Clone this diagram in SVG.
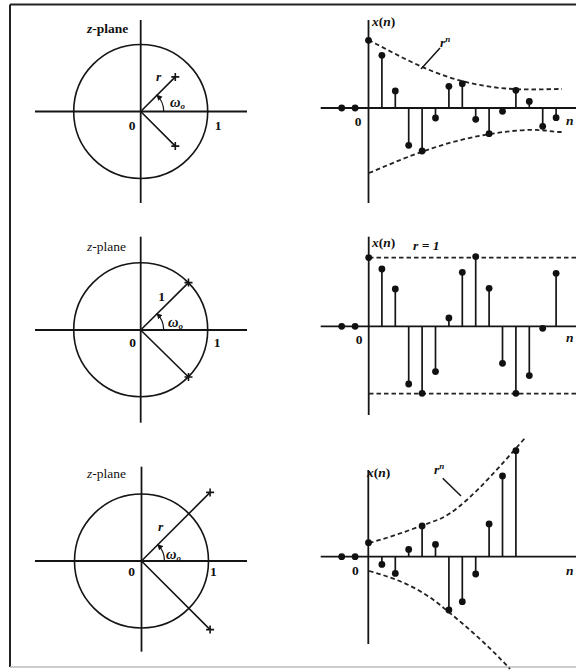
<svg xmlns="http://www.w3.org/2000/svg" width="576" height="672" viewBox="0 0 576 672">
<defs>
<style>
.ax{stroke:#151515;stroke-width:1.8;fill:none}
.cir{stroke:#151515;stroke-width:1.6;fill:none}
.ray{stroke:#151515;stroke-width:1.6;fill:none}
.stem{stroke:#151515;stroke-width:1.7}
.dash{stroke:#222;stroke-width:1.8;fill:none;stroke-dasharray:4.5 3}
.arc{stroke:#151515;stroke-width:1.2;fill:none}
.dot{fill:#111}
.t{font-family:"Liberation Serif","Times New Roman",serif;font-size:13.5px;fill:#111}
.b{font-weight:bold}
.i{font-style:italic}
.w{font-size:14.5px}
.frame{stroke:#222;stroke-width:2;fill:none}
</style>
<marker id="ah" viewBox="0 0 6 6" refX="5" refY="3" markerWidth="5" markerHeight="5" orient="auto">
<path d="M0,0 L6,3 L0,6 z" fill="#151515"/>
</marker>
<g id="pole"><path d="M-4,0 H4 M0,-4 V4" stroke="#151515" stroke-width="1.6"/></g>
<g id="d"><circle r="3.4" class="dot"/></g>
</defs>
<rect width="576" height="672" fill="#fff"/>
<g id="frame">
<path class="frame" d="M10,4.5 H576 M10,4.5 V667"/>
<path d="M10,667 H576" stroke="#bbb" stroke-width="1.5"/>
</g>

<!-- Row 1 z-plane -->
<g id="zplane1">
<line class="ax" x1="35" y1="111.5" x2="247" y2="111.5"/>
<line class="ax" x1="140.7" y1="20" x2="140.7" y2="203"/>
<circle class="cir" cx="140.7" cy="111.5" r="67"/>
<path class="ray" d="M140.7,111.5 L175.3,76.9 M140.7,111.5 L175.3,146.1"/>
<use href="#pole" x="175.3" y="76.9"/>
<use href="#pole" x="175.3" y="146.1"/>
<path class="arc" d="M163.7,111.5 A23,23 0 0 0 157.0,95.2" marker-end="url(#ah)"/>
<text class="t b" x="87" y="33"><tspan class="i">z</tspan>-plane</text>
<text class="t b i" x="156" y="81">r</text>
<text class="t b i w" x="170" y="107">ω<tspan font-size="9" dy="2">o</tspan></text>
<text class="t b" x="132" y="130" text-anchor="middle">0</text>
<text class="t b" x="218" y="130" text-anchor="middle">1</text>
</g>

<!-- Row 1 sequence -->
<g id="seq1">
<line class="ax" x1="320.7" y1="108" x2="576" y2="108"/>
<line class="ax" x1="368.5" y1="20" x2="368.5" y2="203"/>
<path class="dash" d="M368.5,40 C400,56 430,74 470,83 S540,89 562,89"/>
<path class="dash" d="M369,173 C400,160 440,142 490,134 S545,132 563,132"/>
<line x1="440" y1="48" x2="421" y2="69" stroke="#151515" stroke-width="1.5"/>
<text class="t b i" x="440" y="47">r<tspan font-size="9" dy="-5">n</tspan></text>
<text class="t b" x="372" y="26"><tspan class="i">x</tspan>(<tspan class="i">n</tspan>)</text>
<text class="t b" x="358" y="126" text-anchor="middle">0</text>
<text class="t b i" x="566" y="125">n</text>
<g>
<line class="stem" x1="381.9" y1="108" x2="381.9" y2="55.3"/>
<line class="stem" x1="395.3" y1="108" x2="395.3" y2="91"/>
<line class="stem" x1="408.7" y1="108" x2="408.7" y2="145.3"/>
<line class="stem" x1="422.1" y1="108" x2="422.1" y2="151"/>
<line class="stem" x1="435.5" y1="108" x2="435.5" y2="118"/>
<line class="stem" x1="448.9" y1="108" x2="448.9" y2="86.3"/>
<line class="stem" x1="462.3" y1="108" x2="462.3" y2="83.7"/>
<line class="stem" x1="475.7" y1="108" x2="475.7" y2="119.3"/>
<line class="stem" x1="489.1" y1="108" x2="489.1" y2="133.7"/>
<line class="stem" x1="502.5" y1="108" x2="502.5" y2="111.3"/>
<line class="stem" x1="515.9" y1="108" x2="515.9" y2="90.3"/>
<line class="stem" x1="529.3" y1="108" x2="529.3" y2="101.4"/>
<line class="stem" x1="542.7" y1="108" x2="542.7" y2="126.3"/>
<line class="stem" x1="556.1" y1="108" x2="556.1" y2="117.7"/>
</g>
<use href="#d" x="341.7" y="108"/>
<use href="#d" x="355.1" y="108"/>
<use href="#d" x="368.5" y="40.3"/>
<use href="#d" x="381.9" y="55.3"/>
<use href="#d" x="395.3" y="91"/>
<use href="#d" x="408.7" y="145.3"/>
<use href="#d" x="422.1" y="151"/>
<use href="#d" x="435.5" y="118"/>
<use href="#d" x="448.9" y="86.3"/>
<use href="#d" x="462.3" y="83.7"/>
<use href="#d" x="475.7" y="119.3"/>
<use href="#d" x="489.1" y="133.7"/>
<use href="#d" x="502.5" y="111.3"/>
<use href="#d" x="515.9" y="90.3"/>
<use href="#d" x="529.3" y="101.4"/>
<use href="#d" x="542.7" y="126.3"/>
<use href="#d" x="556.1" y="117.7"/>
</g>

<!-- Row 2 z-plane -->
<g id="zplane2">
<line class="ax" x1="35" y1="330" x2="247" y2="330"/>
<line class="ax" x1="140.7" y1="236.7" x2="140.7" y2="422.7"/>
<circle class="cir" cx="140.7" cy="329.7" r="67"/>
<path class="ray" d="M140.7,330 L188.5,282.6 M140.7,330 L188.5,377"/>
<use href="#pole" x="188.5" y="282.6"/>
<use href="#pole" x="188.5" y="377"/>
<path class="arc" d="M163.7,330 A23,23 0 0 0 157.0,313.7" marker-end="url(#ah)"/>
<text class="t" x="87" y="251"><tspan class="i">z</tspan>-plane</text>
<text class="t b" x="161.5" y="301" text-anchor="middle">1</text>
<text class="t b i w" x="168" y="327">ω<tspan font-size="9" dy="2">o</tspan></text>
<text class="t b" x="132.7" y="347" text-anchor="middle">0</text>
<text class="t b" x="217" y="347" text-anchor="middle">1</text>
</g>

<!-- Row 2 sequence -->
<g id="seq2">
<line class="ax" x1="320.7" y1="326.3" x2="576" y2="326.3"/>
<line class="ax" x1="368.7" y1="236.7" x2="368.7" y2="415"/>
<line class="dash" x1="369" y1="257.7" x2="576" y2="257.7"/>
<line class="dash" x1="369" y1="393.7" x2="576" y2="393.7"/>
<text class="t b" x="372" y="247"><tspan class="i">x</tspan>(<tspan class="i">n</tspan>)</text>
<text class="t b i" x="413" y="250">r = 1</text>
<text class="t b" x="359" y="344" text-anchor="middle">0</text>
<text class="t b i" x="566" y="342">n</text>
<g>
<line class="stem" x1="381.9" y1="326.3" x2="381.9" y2="269"/>
<line class="stem" x1="395.3" y1="326.3" x2="395.3" y2="289"/>
<line class="stem" x1="408.7" y1="326.3" x2="408.7" y2="384"/>
<line class="stem" x1="422.1" y1="326.3" x2="422.1" y2="393.3"/>
<line class="stem" x1="435.5" y1="326.3" x2="435.5" y2="371.6"/>
<line class="stem" x1="448.9" y1="326.3" x2="448.9" y2="318"/>
<line class="stem" x1="462.3" y1="326.3" x2="462.3" y2="272.3"/>
<line class="stem" x1="475.7" y1="326.3" x2="475.7" y2="256.6"/>
<line class="stem" x1="489.1" y1="326.3" x2="489.1" y2="288.3"/>
<line class="stem" x1="502.5" y1="326.3" x2="502.5" y2="363.3"/>
<line class="stem" x1="515.9" y1="326.3" x2="515.9" y2="393.3"/>
<line class="stem" x1="529.3" y1="326.3" x2="529.3" y2="375.6"/>
<line class="stem" x1="556.1" y1="326.3" x2="556.1" y2="273.3"/>
</g>
<use href="#d" x="341.7" y="326.3"/>
<use href="#d" x="355.1" y="326.3"/>
<use href="#d" x="368.7" y="257.6"/>
<use href="#d" x="381.9" y="269"/>
<use href="#d" x="395.3" y="289"/>
<use href="#d" x="408.7" y="384"/>
<use href="#d" x="422.1" y="393.3"/>
<use href="#d" x="435.5" y="371.6"/>
<use href="#d" x="448.9" y="318"/>
<use href="#d" x="462.3" y="272.3"/>
<use href="#d" x="475.7" y="256.6"/>
<use href="#d" x="489.1" y="288.3"/>
<use href="#d" x="502.5" y="363.3"/>
<use href="#d" x="515.9" y="393.3"/>
<use href="#d" x="529.3" y="375.6"/>
<use href="#d" x="542.7" y="328.3"/>
<use href="#d" x="556.1" y="273.3"/>
</g>

<!-- Row 3 z-plane -->
<g id="zplane3">
<line class="ax" x1="35" y1="561" x2="247" y2="561"/>
<line class="ax" x1="141.5" y1="466.7" x2="141.5" y2="651.7"/>
<circle class="cir" cx="141.5" cy="561" r="67"/>
<path class="ray" d="M141.5,561 L210.1,492.4 M141.5,561 L210.1,629.6"/>
<use href="#pole" x="210.1" y="492.4"/>
<use href="#pole" x="210.1" y="629.6"/>
<path class="arc" d="M164.5,561 A23,23 0 0 0 157.8,544.7" marker-end="url(#ah)"/>
<text class="t" x="87" y="478"><tspan class="i">z</tspan>-plane</text>
<text class="t b i" x="158" y="531">r</text>
<text class="t b i w" x="166" y="559">ω<tspan font-size="9" dy="2">o</tspan></text>
<text class="t b" x="131.7" y="576" text-anchor="middle">0</text>
<text class="t b" x="213.3" y="576" text-anchor="middle">1</text>
</g>

<!-- Row 3 sequence -->
<g id="seq3">
<line class="ax" x1="320.7" y1="556.7" x2="576" y2="556.7"/>
<line class="ax" x1="368.3" y1="470" x2="368.3" y2="644"/>
<path class="dash" d="M369,543 C395,536 418,527 440,519 C462,509 490,478 525,438"/>
<path class="dash" d="M369,571 C395,578 418,587 440,605 C465,625 488,645 510,669"/>
<line x1="442.7" y1="478.3" x2="461" y2="496" stroke="#151515" stroke-width="1.5"/>
<text class="t b i" x="434" y="474">r<tspan font-size="9" dy="-5">n</tspan></text>
<text class="t b" x="367" y="477"><tspan class="i">x</tspan>(<tspan class="i">n</tspan>)</text>
<text class="t b" x="355.3" y="575" text-anchor="middle">0</text>
<text class="t b i" x="566" y="575">n</text>
<g>
<line class="stem" x1="381.9" y1="556.7" x2="381.9" y2="564.4"/>
<line class="stem" x1="395.3" y1="556.7" x2="395.3" y2="573.4"/>
<line class="stem" x1="408.7" y1="556.7" x2="408.7" y2="549.4"/>
<line class="stem" x1="422.1" y1="556.7" x2="422.1" y2="526"/>
<line class="stem" x1="435.5" y1="556.7" x2="435.5" y2="544.4"/>
<line class="stem" x1="448.9" y1="556.7" x2="448.9" y2="610"/>
<line class="stem" x1="462.3" y1="556.7" x2="462.3" y2="601.7"/>
<line class="stem" x1="475.7" y1="556.7" x2="475.7" y2="574"/>
<line class="stem" x1="489.1" y1="556.7" x2="489.1" y2="524"/>
<line class="stem" x1="502.5" y1="556.7" x2="502.5" y2="476"/>
<line class="stem" x1="515.9" y1="556.7" x2="515.9" y2="450.7"/>
</g>
<use href="#d" x="341.7" y="556.7"/>
<use href="#d" x="355.1" y="556.7"/>
<use href="#d" x="368.5" y="542.7"/>
<use href="#d" x="381.9" y="564.4"/>
<use href="#d" x="395.3" y="573.4"/>
<use href="#d" x="408.7" y="549.4"/>
<use href="#d" x="422.1" y="526"/>
<use href="#d" x="435.5" y="544.4"/>
<use href="#d" x="448.9" y="610"/>
<use href="#d" x="462.3" y="601.7"/>
<use href="#d" x="475.7" y="574"/>
<use href="#d" x="489.1" y="524"/>
<use href="#d" x="502.5" y="476"/>
<use href="#d" x="515.9" y="450.7"/>
</g>
</svg>
